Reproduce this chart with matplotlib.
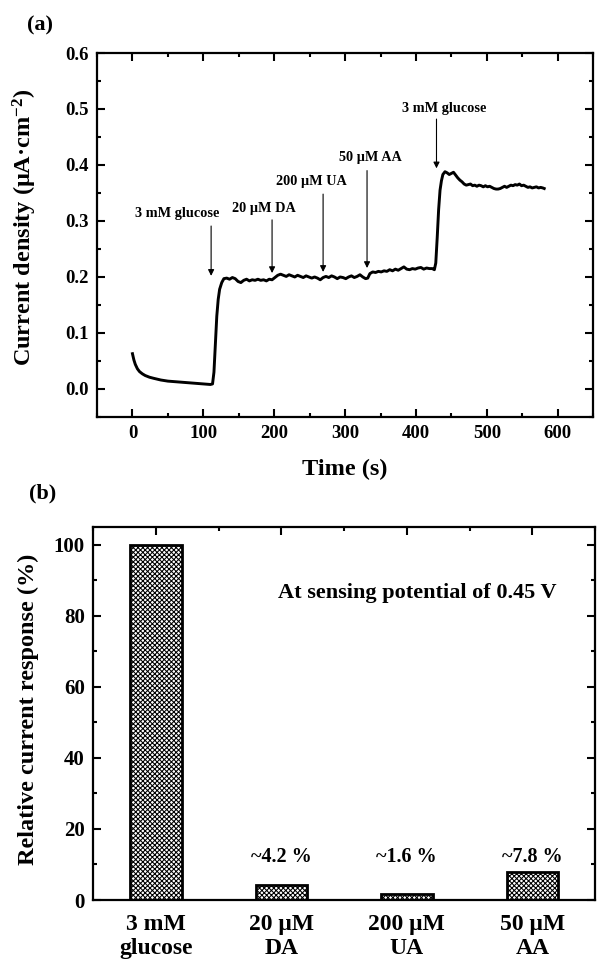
import numpy as np
import matplotlib
matplotlib.use("Agg")
import matplotlib.pyplot as plt
from matplotlib.ticker import MultipleLocator

plt.rcParams['font.family'] = ['Liberation Serif', 'DejaVu Serif']
plt.rcParams['font.weight'] = 'bold'
plt.rcParams['mathtext.fontset'] = 'custom'
plt.rcParams['mathtext.bf'] = 'Liberation Serif:bold'
plt.rcParams['mathtext.rm'] = 'Liberation Serif:bold'
plt.rcParams['mathtext.default'] = 'bf'
plt.rcParams['hatch.linewidth'] = 0.75

# (a) amperometric response
time_s = [0, 2, 4, 7, 10, 14, 18, 24, 30, 40, 50, 60, 70, 80, 90, 100, 110, 113,
          115, 117, 119, 121, 123, 126, 129, 133, 137, 141, 145, 149, 153, 157,
          161, 165, 169, 173, 177, 181, 185, 189, 193, 197, 201, 205, 209, 213,
          217, 221, 225, 229, 233, 237, 241, 245, 249, 253, 257, 261, 265, 269,
          273, 277, 281, 285, 289, 293, 297, 301, 305, 309, 313, 317, 321, 325,
          329, 332, 335, 339, 343, 347, 351, 355, 359, 363, 367, 371, 375, 379,
          383, 387, 391, 395, 399, 403, 407, 411, 415, 419, 423, 426, 428, 430,
          432, 434, 436, 438, 441, 444, 447, 450, 453, 456, 459, 462, 465, 468,
          471, 474, 477, 480, 483, 486, 489, 492, 495, 498, 501, 504, 507, 510,
          513, 516, 519, 522, 525, 528, 531, 534, 537, 540, 543, 546, 549, 552,
          555, 558, 561, 564, 567, 570, 573, 576, 579, 581]
current = [0.063, 0.052, 0.044, 0.036, 0.031, 0.027, 0.024, 0.021, 0.019, 0.016,
           0.014, 0.013, 0.012, 0.011, 0.010, 0.009, 0.008, 0.009, 0.030, 0.080,
           0.130, 0.160, 0.178, 0.190, 0.197, 0.198, 0.196, 0.199, 0.197, 0.192,
           0.190, 0.194, 0.196, 0.193, 0.195, 0.194, 0.196, 0.194, 0.195, 0.193,
           0.196, 0.195, 0.199, 0.203, 0.205, 0.203, 0.201, 0.204, 0.202, 0.200,
           0.203, 0.201, 0.199, 0.202, 0.200, 0.198, 0.200, 0.198, 0.195, 0.199,
           0.201, 0.199, 0.202, 0.200, 0.197, 0.200, 0.199, 0.197, 0.200, 0.202,
           0.199, 0.201, 0.204, 0.200, 0.197, 0.198, 0.206, 0.209, 0.208, 0.210,
           0.209, 0.211, 0.210, 0.213, 0.211, 0.214, 0.212, 0.215, 0.218, 0.214,
           0.213, 0.215, 0.214, 0.216, 0.217, 0.214, 0.216, 0.215, 0.215, 0.213,
           0.225, 0.270, 0.320, 0.355, 0.372, 0.383, 0.388, 0.386, 0.383, 0.385,
           0.387, 0.382, 0.377, 0.373, 0.370, 0.366, 0.364, 0.365, 0.366, 0.363,
           0.364, 0.362, 0.364, 0.363, 0.361, 0.363, 0.361, 0.362, 0.360, 0.358,
           0.357, 0.357, 0.358, 0.360, 0.362, 0.360, 0.362, 0.364, 0.363, 0.365,
           0.364, 0.366, 0.363, 0.364, 0.362, 0.360, 0.361, 0.359, 0.360, 0.361,
           0.359, 0.360, 0.359, 0.358]

inject_labels = ['3 mM glucose', '20 μM DA', '200 μM UA', '50 μM AA', '3 mM glucose']
arrow_x = [111, 197, 269, 331, 429]
arrow_top = [0.291, 0.302, 0.348, 0.390, 0.482]
arrow_tip = [0.202, 0.207, 0.209, 0.216, 0.394]
label_x = [63, 185, 253, 336, 440]
label_y = [0.314, 0.323, 0.370, 0.414, 0.500]

# (b) selectivity
species = ['3 mM\nglucose', '20 μM\nDA', '200 μM\nUA', '50 μM\nAA']
response = [100, 4.2, 1.6, 7.8]
response_text = ['', '~4.2 %', '~1.6 %', '~7.8 %']

fig = plt.figure(figsize=(5.97, 9.69), dpi=100)
ax1 = fig.add_axes([0.1625, 0.5697, 0.831, 0.3756])
ax2 = fig.add_axes([0.1558, 0.0712, 0.841, 0.3849])


def style_axes(ax):
    for s in ax.spines.values():
        s.set_linewidth(1.6)
    ax.tick_params(which='both', direction='in', top=True, right=True, width=1.5)
    ax.tick_params(which='major', length=6)
    ax.tick_params(which='minor', length=3)


ax1.plot(time_s, current, color='black', lw=2.1)
for i in range(len(inject_labels)):
    ax1.annotate('', xy=(arrow_x[i], arrow_tip[i]), xytext=(arrow_x[i], arrow_top[i]),
                 arrowprops=dict(arrowstyle='-|>', color='black', lw=0.8,
                                 mutation_scale=9, shrinkA=0, shrinkB=0))
    ax1.text(label_x[i], label_y[i], inject_labels[i], ha='center', va='center',
             fontsize=10.3, fontweight='bold')
ax1.set_xlim(-50, 650)
ax1.set_ylim(-0.05, 0.6)
ax1.xaxis.set_major_locator(MultipleLocator(100))
ax1.xaxis.set_minor_locator(MultipleLocator(50))
ax1.yaxis.set_minor_locator(MultipleLocator(0.05))
ax1.set_yticks([0.0, 0.1, 0.2, 0.3, 0.4, 0.5, 0.6])
ax1.set_yticklabels(['0.0', '0.1', '0.2', '0.3', '0.4', '0.5', '0.6'])
style_axes(ax1)
ax1.tick_params(labelsize=13.5, pad=6)
ax1.set_xlabel('Time (s)', fontsize=17.5, fontweight='bold', labelpad=12)
ax1.set_ylabel('Current density (μA·cm$^{-2}$)', fontsize=17.5, fontweight='bold')
ax1.yaxis.set_label_coords(-0.117, 0.52)

pos = np.arange(1, len(species) + 1)
ax2.bar(pos, response, width=0.41, facecolor='white', edgecolor='black',
        linewidth=2.0, hatch='xxxxxxx')
for p, v, t in zip(pos, response, response_text):
    if t:
        ax2.text(p, 12.2, t, ha='center', va='center', fontsize=14.5, fontweight='bold')
ax2.text(3.08, 86.3, 'At sensing potential of 0.45 V', ha='center', va='center',
         fontsize=16, fontweight='bold')
ax2.set_xlim(0.5, 4.5)
ax2.set_ylim(0, 105)
ax2.set_xticks(pos)
ax2.set_xticklabels(species)
ax2.xaxis.set_minor_locator(MultipleLocator(0.5))
ax2.yaxis.set_major_locator(MultipleLocator(20))
ax2.yaxis.set_minor_locator(MultipleLocator(10))
style_axes(ax2)
ax2.tick_params(axis='x', which='both', bottom=False)
ax2.tick_params(axis='x', labelsize=17, pad=10)
ax2.tick_params(axis='y', labelsize=15, pad=6)
ax2.set_ylabel('Relative current response (%)', fontsize=17.5, fontweight='bold')
ax2.yaxis.set_label_coords(-0.108, 0.51)

fig.text(0.067, 0.974, '(a)', fontsize=16, fontweight='bold', ha='center', va='center')
fig.text(0.071, 0.491, '(b)', fontsize=16, fontweight='bold', ha='center', va='center')

fig.savefig('out.png', dpi=100)
